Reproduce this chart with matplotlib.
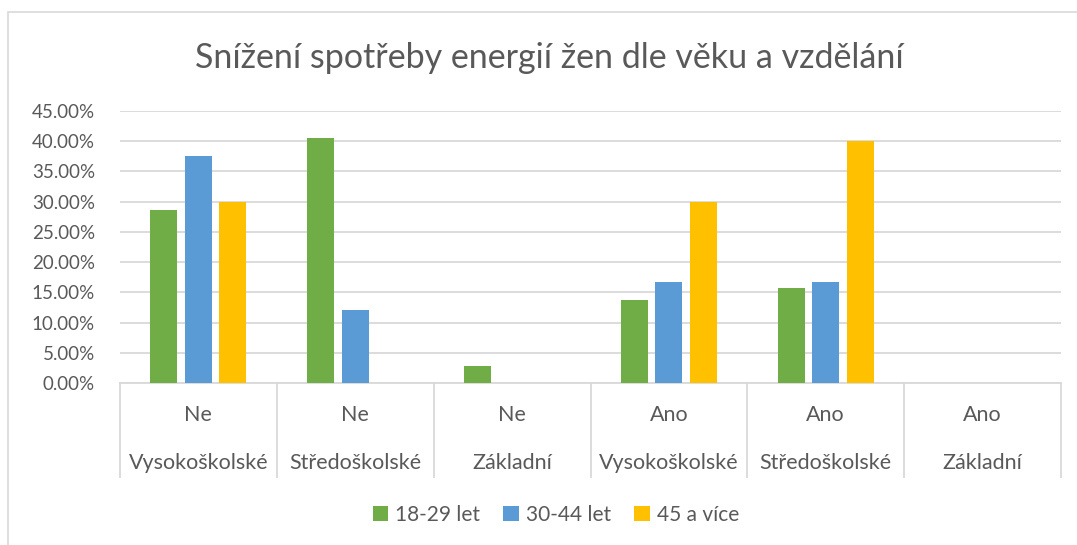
import matplotlib
matplotlib.use("Agg")
import matplotlib.pyplot as plt
from matplotlib.lines import Line2D
from matplotlib.patches import Rectangle
from matplotlib.ticker import FuncFormatter
import numpy as np

plt.rcParams["font.family"] = ["Lato", "DejaVu Sans"]

# data
answers = ["Ne", "Ne", "Ne", "Ano", "Ano", "Ano"]
education = ["Vysokoškolské", "Středoškolské", "Základní",
             "Vysokoškolské", "Středoškolské", "Základní"]
series_names = ["18-29 let", "30-44 let", "45 a více"]
age_18_29 = [0.287, 0.405, 0.028, 0.137, 0.157, 0.0]
age_30_44 = [0.375, 0.12, 0.0, 0.1667, 0.1667, 0.0]
age_45_plus = [0.30, 0.0, 0.0, 0.30, 0.40, 0.0]
series = [age_18_29, age_30_44, age_45_plus]
colors = ["#70ad47", "#5b9bd5", "#ffc000"]

TEXT = "#595959"
GRID = "#d9d9d9"

fig = plt.figure(figsize=(10.77, 5.45), dpi=100)
fig.patches.append(Rectangle((8 / 1077, -0.01), 1.1, 1 - 12 / 545 + 0.01,
                             transform=fig.transFigure, fill=False,
                             edgecolor=GRID, linewidth=1.2))

ax = fig.add_axes([120 / 1077, 1 - 383 / 545, 941 / 1077, 272 / 545])

x = np.arange(len(answers)) + 0.5
width = 0.172
step = 0.22
for i, (vals, col) in enumerate(zip(series, colors)):
    ax.bar(x + (i - 1) * step, vals, width=width, color=col,
           label=series_names[i], zorder=3)

ax.set_xlim(0, len(answers))
ax.set_ylim(0, 0.45)
ax.set_yticks(np.arange(0, 0.451, 0.05))
ax.yaxis.set_major_formatter(FuncFormatter(lambda v, _: f"{v * 100:.2f}%"))
ax.tick_params(axis="y", length=0, labelsize=13.5, labelcolor=TEXT, pad=18)
ax.tick_params(axis="x", length=0, labelbottom=False)
ax.grid(axis="y", color=GRID, linewidth=1.3, zorder=0)
for s in ["top", "right", "left"]:
    ax.spines[s].set_visible(False)
ax.spines["bottom"].set_color(GRID)
ax.spines["bottom"].set_linewidth(1.3)

# multi-level category labels
sep_bottom = (383 - 477) / 272
for k in range(len(answers) + 1):
    ax.add_line(Line2D([k, k], [0, sep_bottom], color=GRID, linewidth=1.3,
                       transform=ax.get_xaxis_transform(), clip_on=False))
for xi, a, e in zip(x, answers, education):
    ax.text(xi, (383 - 415) / 272, a, transform=ax.get_xaxis_transform(),
            ha="center", va="center", fontsize=15.5, color=TEXT)
    ax.text(xi, (383 - 463) / 272, e, transform=ax.get_xaxis_transform(),
            ha="center", va="center", fontsize=15.5, color=TEXT)

fig.text(549 / 1077, 1 - 58 / 545, "Snížení spotřeby energií žen dle věku a vzdělání",
         ha="center", va="center", fontsize=24.5, color=TEXT)

fig.legend(loc="center", bbox_to_anchor=(556 / 1077, 1 - 515 / 545), ncol=3,
           frameon=False, fontsize=15, labelcolor=TEXT, handlelength=0.75,
           handleheight=0.75, handletextpad=0.35, columnspacing=1.1)

fig.savefig("out.png", dpi=100, facecolor="white")
